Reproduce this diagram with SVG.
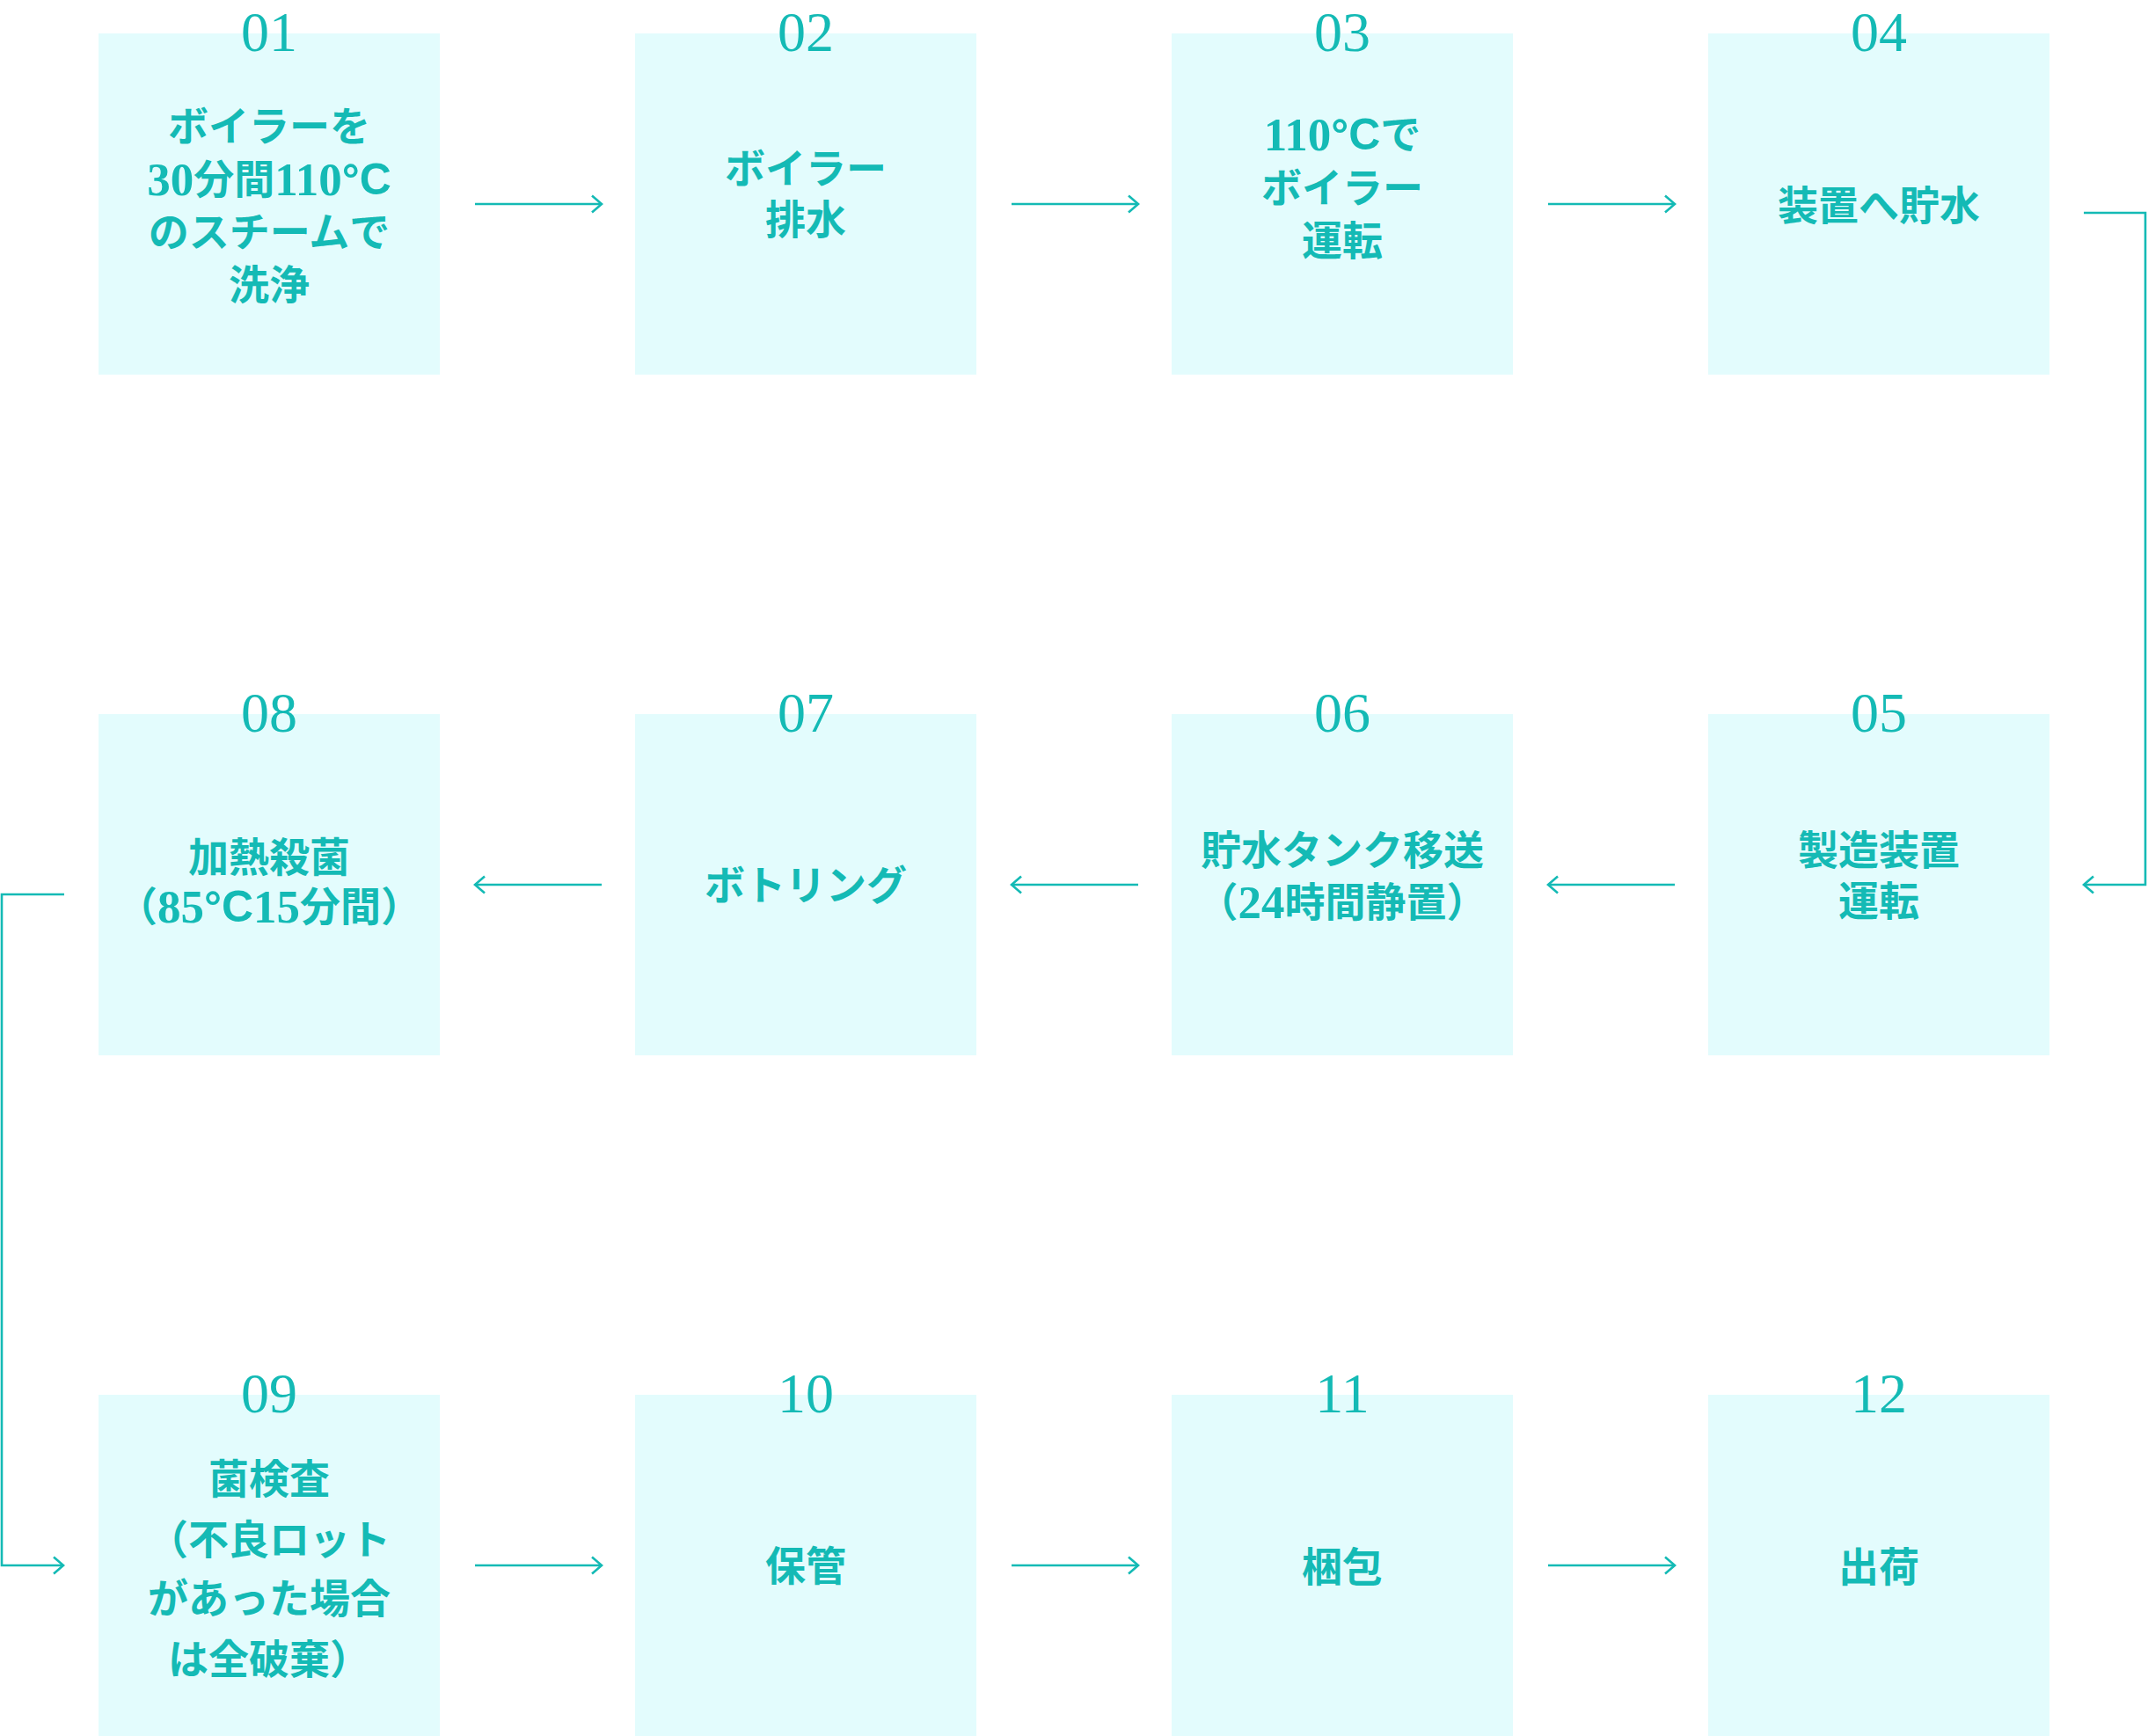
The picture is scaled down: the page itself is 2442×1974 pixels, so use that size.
<svg xmlns="http://www.w3.org/2000/svg" width="2442" height="1974" viewBox="0 0 2442 1974">
<style>
.box{fill:#e3fcfd}
.num{font-family:"Liberation Serif","Noto Sans CJK JP",serif;font-size:64px;fill:#14bab5;text-anchor:middle}
.lbl{font-family:"Liberation Serif","Noto Sans CJK JP",serif;font-size:46px;font-weight:bold;fill:#14bab5;text-anchor:middle;dominant-baseline:central}
.lat{font-size:53px}
.cs{font-family:"Liberation Sans",sans-serif;font-size:50px}
.con{fill:none;stroke:#14bab5;stroke-width:2.6}
</style>
<defs>
<marker id="ah" markerUnits="userSpaceOnUse" markerWidth="30" markerHeight="30" viewBox="-15 -15 30 30" refX="0" refY="0" orient="auto">
<path d="M-11,-9.5 L0,0 L-11,9.5" fill="none" stroke="#14bab5" stroke-width="2.6"/>
</marker>
</defs>
<rect width="2442" height="1974" fill="#ffffff"/>
<g id="connectors">
<path class="con" d="M540,232 H684" marker-end="url(#ah)"/>
<path class="con" d="M1150,232 H1294" marker-end="url(#ah)"/>
<path class="con" d="M1760,232 H1904" marker-end="url(#ah)"/>
<path class="con" d="M2369,242 H2439 V1006 H2369" marker-end="url(#ah)"/>
<path class="con" d="M1904,1006 H1760" marker-end="url(#ah)"/>
<path class="con" d="M1294,1006 H1150" marker-end="url(#ah)"/>
<path class="con" d="M684,1006 H540" marker-end="url(#ah)"/>
<path class="con" d="M73,1017 H2 V1780 H72" marker-end="url(#ah)"/>
<path class="con" d="M540,1780 H684" marker-end="url(#ah)"/>
<path class="con" d="M1150,1780 H1294" marker-end="url(#ah)"/>
<path class="con" d="M1760,1780 H1904" marker-end="url(#ah)"/>
</g>
<g id="n01"><rect class="box" x="112" y="38" width="388" height="388"/><text class="num" x="306" y="58">01</text>
<text class="lbl" x="306" y="144">ボイラーを</text><text class="lbl" x="306" y="204"><tspan class="lat">30</tspan>分間<tspan class="lat">110</tspan><tspan class="cs">°C</tspan></text><text class="lbl" x="306" y="264">のスチームで</text><text class="lbl" x="306" y="324">洗浄</text></g>
<g id="n02"><rect class="box" x="722" y="38" width="388" height="388"/><text class="num" x="916" y="58">02</text>
<text class="lbl" x="916" y="192">ボイラー</text><text class="lbl" x="916" y="250">排水</text></g>
<g id="n03"><rect class="box" x="1332" y="38" width="388" height="388"/><text class="num" x="1526" y="58">03</text>
<text class="lbl" x="1526" y="153"><tspan class="lat">110</tspan><tspan class="cs">°C</tspan>で</text><text class="lbl" x="1526" y="214">ボイラー</text><text class="lbl" x="1526" y="274">運転</text></g>
<g id="n04"><rect class="box" x="1942" y="38" width="388" height="388"/><text class="num" x="2136" y="58">04</text>
<text class="lbl" x="2136" y="234">装置へ貯水</text></g>
<g id="n05"><rect class="box" x="1942" y="812" width="388" height="388"/><text class="num" x="2136" y="832">05</text>
<text class="lbl" x="2136" y="967">製造装置</text><text class="lbl" x="2136" y="1025">運転</text></g>
<g id="n06"><rect class="box" x="1332" y="812" width="388" height="388"/><text class="num" x="1526" y="832">06</text>
<text class="lbl" x="1526" y="967">貯水タンク移送</text><text class="lbl" x="1526" y="1026">（<tspan class="lat">24</tspan>時間静置）</text></g>
<g id="n07"><rect class="box" x="722" y="812" width="388" height="388"/><text class="num" x="916" y="832">07</text>
<text class="lbl" x="916" y="1007">ボトリング</text></g>
<g id="n08"><rect class="box" x="112" y="812" width="388" height="388"/><text class="num" x="306" y="832">08</text>
<text class="lbl" x="306" y="975">加熱殺菌</text><text class="lbl" x="306" y="1031">（<tspan class="lat">85</tspan><tspan class="cs">°C</tspan><tspan class="lat">15</tspan>分間）</text></g>
<g id="n09"><rect class="box" x="112" y="1586" width="388" height="388"/><text class="num" x="306" y="1606">09</text>
<text class="lbl" x="306" y="1682">菌検査</text><text class="lbl" x="306" y="1751">（不良ロット</text><text class="lbl" x="306" y="1818">があった場合</text><text class="lbl" x="306" y="1887">は全破棄）</text></g>
<g id="n10"><rect class="box" x="722" y="1586" width="388" height="388"/><text class="num" x="916" y="1606">10</text>
<text class="lbl" x="916" y="1781">保管</text></g>
<g id="n11"><rect class="box" x="1332" y="1586" width="388" height="388"/><text class="num" x="1526" y="1606">11</text>
<text class="lbl" x="1526" y="1782">梱包</text></g>
<g id="n12"><rect class="box" x="1942" y="1586" width="388" height="388"/><text class="num" x="2136" y="1606">12</text>
<text class="lbl" x="2136" y="1782">出荷</text></g>
</svg>
